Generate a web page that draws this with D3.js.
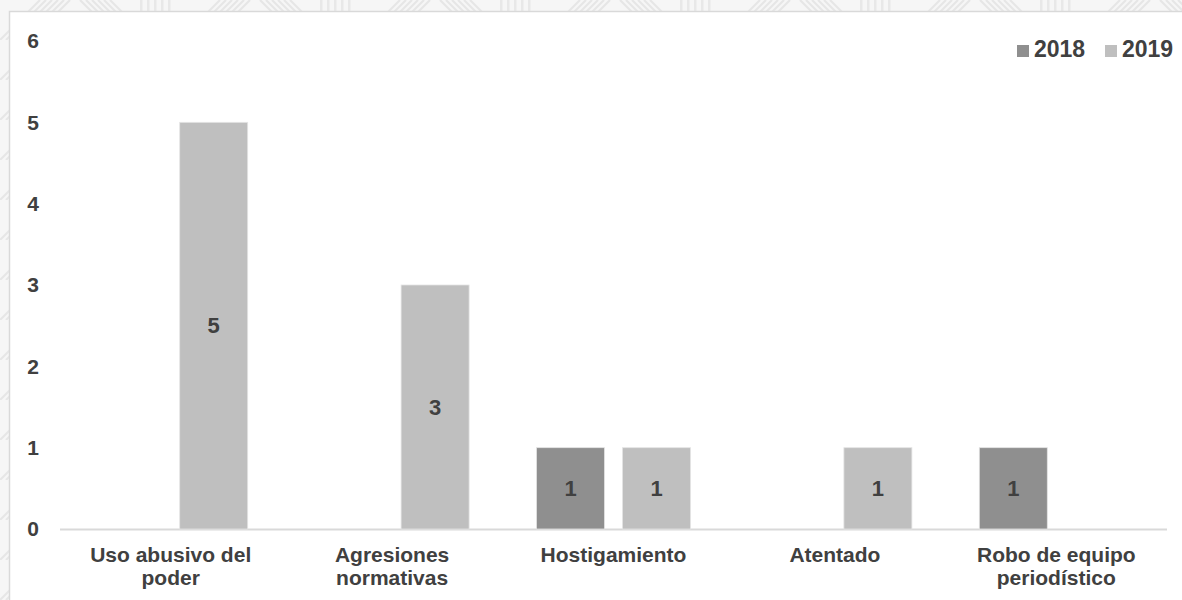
<!DOCTYPE html>
<html><head><meta charset="utf-8">
<script src="https://cdn.jsdelivr.net/npm/d3@7"></script>
<style>body{margin:0;background:#fff;}svg{display:block;font-family:Arial,"Liberation Sans",sans-serif;}</style>
</head><body><svg id="c" width="1182" height="600"></svg>
<script>
const categories = [["Uso abusivo del","poder"],["Agresiones","normativas"],["Hostigamiento"],["Atentado"],["Robo de equipo","periodístico"]];
const seriesNames = ["2018","2019"];
const values2018 = [null,null,1,null,1];
const values2019 = [5,3,1,1,null];
const yTicks = [0,1,2,3,4,5,6];
const colors = {"2018":"#8f8f8f","2019":"#bfbfbf"};

const svg = d3.select("#c");
// background pattern
const defs = svg.append("defs");
const pat = defs.append("pattern").attr("id","bg").attr("patternUnits","userSpaceOnUse").attr("width",180).attr("height",40);
pat.append("rect").attr("width",180).attr("height",40).attr("fill","#f6f6f6");
for(let i=0;i<6;i++){
  pat.append("path").attr("d",`M${i*6},40 L${40+i*6},0`).attr("stroke","#e6e6e6").attr("stroke-width",2).attr("fill","none");
  pat.append("path").attr("d",`M${80+i*6},0 L${120+i*6},40`).attr("stroke","#e6e6e6").attr("stroke-width",2).attr("fill","none");
}
for(let i=0;i<5;i++){
  pat.append("rect").attr("x",140+i*7).attr("y",0).attr("width",2.5).attr("height",40).attr("fill","#e8e8e8");
}
svg.append("rect").attr("width",1182).attr("height",600).attr("fill","url(#bg)");
svg.append("rect").attr("x",9.5).attr("y",11.5).attr("width",1180).attr("height",600).attr("fill","#fff").attr("stroke","#d9d9d9").attr("stroke-width",1.5);

const x0 = d3.scaleBand().domain(d3.range(categories.length)).range([60,1167]).paddingInner(0).paddingOuter(0);
const y = d3.scaleLinear().domain([0,6]).range([529,41]);
const x1 = d3.scaleBand().domain(seriesNames).range([-77,77]).paddingInner(18/86);

// y tick labels
svg.append("g").selectAll("text").data(yTicks).join("text")
  .attr("x",39).attr("y",d=>y(d)).attr("dy","0.35em").attr("text-anchor","end")
  .attr("font-size",21).attr("font-weight","bold").attr("fill","#404040").text(d=>d);

// baseline
svg.append("line").attr("x1",60).attr("x2",1167).attr("y1",y(0)+0.5).attr("y2",y(0)+0.5).attr("stroke","#d9d9d9").attr("stroke-width",2);

const data = [];
categories.forEach((c,i)=>{
  if(values2018[i]!=null) data.push({i,s:"2018",v:values2018[i]});
  if(values2019[i]!=null) data.push({i,s:"2019",v:values2019[i]});
});
const cx = i => x0(i)+x0.bandwidth()/2;
const g = svg.append("g");
g.selectAll("rect").data(data).join("rect")
  .attr("x",d=>cx(d.i)+x1(d.s)).attr("width",x1.bandwidth())
  .attr("y",d=>y(d.v)).attr("height",d=>y(0)-y(d.v))
  .attr("fill",d=>colors[d.s]).attr("stroke","#e4e4e4").attr("stroke-width",0.8);
g.selectAll("text").data(data).join("text")
  .attr("x",d=>cx(d.i)+x1(d.s)+x1.bandwidth()/2).attr("y",d=>(y(d.v)+y(0))/2).attr("dy","0.35em")
  .attr("text-anchor","middle").attr("font-size",22).attr("font-weight","bold").attr("fill","#404040").text(d=>d.v);

// category labels
const cl = svg.append("g").selectAll("text").data(categories).join("text")
  .attr("text-anchor","middle").attr("font-size",21).attr("font-weight","bold").attr("fill","#404040")
  .attr("x",(d,i)=>cx(i)).attr("y",555);
cl.selectAll("tspan").data(d=>d).join("tspan").attr("x",function(){return this.parentNode.getAttribute("x");})
  .attr("dy",(d,j)=>j===0?"0.35em":"1.1em").text(d=>d);

// legend
const leg = svg.append("g");
const legX = [1017,1105];
seriesNames.forEach((s,k)=>{
  leg.append("rect").attr("x",legX[k]).attr("y",45).attr("width",12).attr("height",12).attr("fill",colors[s]);
  leg.append("text").attr("x",legX[k]+17).attr("y",49).attr("dy","0.35em").attr("font-size",23).attr("font-weight","bold").attr("fill","#404040").text(s);
});
</script></body></html>
